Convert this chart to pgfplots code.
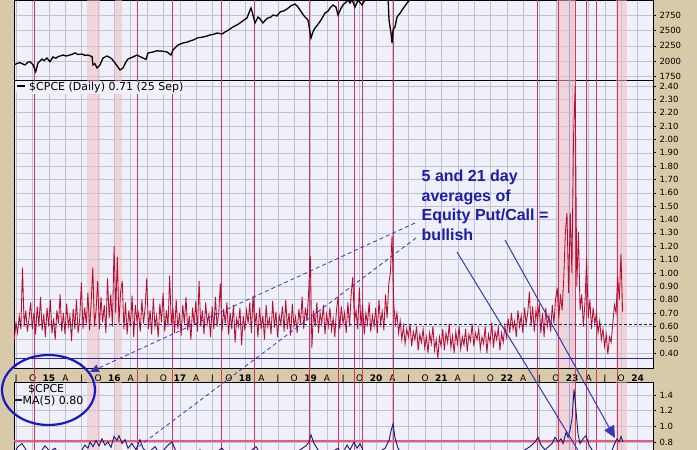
\documentclass[border=0pt]{standalone}
\usepackage{pgfplots}
\pgfplotsset{compat=1.18}
\usepackage{pgfplotstable}
\usepackage{fontspec}
\setmainfont{DejaVu Sans}
\newfontfamily\annfont{Liberation Sans}
\usetikzlibrary{arrows.meta}

\definecolor{tanbg}{RGB}{216,202,168}
\definecolor{panelbg}{RGB}{239,240,249}
\definecolor{gridc}{RGB}{192,194,208}
\definecolor{sigred}{RGB}{205,55,100}
\definecolor{bandpink}{RGB}{240,190,194}
\definecolor{cpcered}{RGB}{185,12,48}
\definecolor{navyline}{RGB}{25,25,110}
\definecolor{refblue}{RGB}{40,40,170}
\definecolor{annblue}{RGB}{28,28,170}
\definecolor{arrowblue}{RGB}{55,55,185}
\definecolor{ellblue}{RGB}{25,25,195}
\definecolor{refpink}{RGB}{232,90,125}

% signal dates (red lines) and shaded periods
\newcommand{\signals}{%
  \fill[bandpink, fill opacity=0.55] (axis cs:2015.581,\pgfkeysvalueof{/pgfplots/ymin}) rectangle (axis cs:2015.780,\pgfkeysvalueof{/pgfplots/ymax});
  \fill[bandpink, fill opacity=0.55] (axis cs:2016.009,\pgfkeysvalueof{/pgfplots/ymin}) rectangle (axis cs:2016.116,\pgfkeysvalueof{/pgfplots/ymax});
  \fill[bandpink, fill opacity=0.55] (axis cs:2022.767,\pgfkeysvalueof{/pgfplots/ymin}) rectangle (axis cs:2023.058,\pgfkeysvalueof{/pgfplots/ymax});
  \fill[bandpink, fill opacity=0.55] (axis cs:2023.670,\pgfkeysvalueof{/pgfplots/ymin}) rectangle (axis cs:2023.838,\pgfkeysvalueof{/pgfplots/ymax});
  \draw[refblue!45, line width=0.7pt] (axis cs:2022.951,\pgfkeysvalueof{/pgfplots/ymin}) -- (axis cs:2022.951,\pgfkeysvalueof{/pgfplots/ymax});
  \pgfplotsinvokeforeach{2014.771,2016.346,2016.881,2017.630,2018.135,2018.975,2019.419,2019.664,2019.786,2020.260,2022.462,2022.783,2023.043,2023.211,2023.364,2023.685}{%
    \draw[sigred, line width=0.7pt] (axis cs:##1,\pgfkeysvalueof{/pgfplots/ymin}) -- (axis cs:##1,\pgfkeysvalueof{/pgfplots/ymax});}%
}

\pgfplotsset{
  panel/.style={
    scale only axis, width=639pt,
    xmin=2014.465, xmax=2024.235,
    axis background/.style={fill=panelbg},
    xtick={2014.5,2014.75,2015,2015.25,2015.5,2015.75,2016,2016.25,2016.5,2016.75,2017,2017.25,2017.5,2017.75,2018,2018.25,2018.5,2018.75,2019,2019.25,2019.5,2019.75,2020,2020.25,2020.5,2020.75,2021,2021.25,2021.5,2021.75,2022,2022.25,2022.5,2022.75,2023,2023.25,2023.5,2023.75,2024},
    xmajorgrids, ymajorgrids,
    major grid style={gridc, line width=0.5pt},
    axis line style={black, line width=0.9pt},
    xtick style={draw=none},
    ytick pos=right, yticklabel pos=right,
    tick align=outside,
    ytick style={black, line width=0.6pt},
    major tick length=3pt,
    tick label style={font=\fontsize{8.5}{10}\selectfont, black},
    /pgf/number format/assume math mode=true,
  }
}

% $CPCE daily, one value every 0.025 year from 2014.47
\pgfplotstableread[row sep=\\]{
v\\
0.50\\ 0.62\\ 0.55\\ 0.68\\ 0.58\\ 1.04\\ 0.60\\ 0.72\\ 0.56\\ 0.66\\
0.78\\ 0.58\\ 0.70\\ 0.54\\ 0.75\\ 0.60\\ 0.82\\ 0.57\\ 0.69\\ 0.52\\
0.74\\ 0.60\\ 0.80\\ 0.55\\ 0.66\\ 0.50\\ 0.72\\ 0.62\\ 0.84\\ 0.56\\
0.70\\ 0.54\\ 0.77\\ 0.60\\ 0.68\\ 0.49\\ 0.73\\ 0.58\\ 0.80\\ 0.55\\
0.66\\ 0.93\\ 0.58\\ 0.74\\ 0.62\\ 0.85\\ 0.57\\ 0.78\\ 1.04\\ 0.60\\
0.72\\ 0.94\\ 0.58\\ 0.82\\ 0.63\\ 0.76\\ 0.55\\ 0.96\\ 0.66\\ 0.84\\
0.60\\ 1.20\\ 0.70\\ 1.12\\ 0.62\\ 0.86\\ 0.94\\ 0.58\\ 0.78\\ 0.54\\
0.72\\ 0.60\\ 0.83\\ 0.52\\ 0.76\\ 0.64\\ 0.70\\ 0.56\\ 0.80\\ 0.62\\
0.74\\ 0.96\\ 0.58\\ 0.72\\ 0.54\\ 0.81\\ 0.60\\ 0.68\\ 0.52\\ 0.77\\
0.63\\ 0.85\\ 0.56\\ 0.72\\ 0.60\\ 0.98\\ 0.62\\ 0.74\\ 0.55\\ 0.80\\
0.58\\ 0.70\\ 0.53\\ 0.76\\ 0.62\\ 0.82\\ 0.57\\ 0.68\\ 0.50\\ 0.74\\
0.61\\ 0.79\\ 0.56\\ 0.94\\ 0.60\\ 0.72\\ 0.54\\ 0.78\\ 0.62\\ 0.69\\
0.52\\ 0.75\\ 0.58\\ 0.82\\ 0.60\\ 0.70\\ 0.92\\ 0.56\\ 0.73\\ 0.62\\
0.78\\ 0.54\\ 0.70\\ 0.58\\ 0.76\\ 0.48\\ 0.66\\ 0.60\\ 0.74\\ 0.46\\
0.68\\ 0.57\\ 0.72\\ 0.62\\ 0.78\\ 0.55\\ 0.83\\ 0.60\\ 0.70\\ 0.52\\
0.74\\ 0.58\\ 0.68\\ 0.50\\ 0.76\\ 0.60\\ 0.66\\ 0.54\\ 0.79\\ 0.59\\
0.71\\ 0.52\\ 0.68\\ 0.62\\ 0.75\\ 0.56\\ 0.80\\ 0.58\\ 0.70\\ 0.53\\
0.77\\ 0.60\\ 0.67\\ 0.55\\ 0.73\\ 0.62\\ 0.82\\ 0.58\\ 0.74\\ 0.64\\
0.86\\ 1.13\\ 0.44\\ 0.72\\ 0.60\\ 0.78\\ 0.55\\ 0.70\\ 0.62\\ 0.76\\
0.54\\ 0.69\\ 0.60\\ 0.74\\ 0.57\\ 0.66\\ 0.52\\ 0.72\\ 0.82\\ 0.58\\
0.75\\ 0.62\\ 0.70\\ 0.55\\ 0.78\\ 0.60\\ 0.84\\ 0.97\\ 0.63\\ 0.72\\
0.58\\ 0.89\\ 0.60\\ 0.76\\ 0.54\\ 0.70\\ 0.62\\ 0.78\\ 0.56\\ 0.68\\
0.60\\ 0.74\\ 0.55\\ 0.80\\ 0.62\\ 0.71\\ 0.57\\ 0.84\\ 0.66\\ 0.92\\
1.00\\ 1.28\\ 0.78\\ 0.62\\ 0.70\\ 0.55\\ 0.64\\ 0.50\\ 0.60\\ 0.47\\
0.58\\ 0.52\\ 0.62\\ 0.45\\ 0.56\\ 0.50\\ 0.60\\ 0.42\\ 0.54\\ 0.48\\
0.58\\ 0.44\\ 0.52\\ 0.40\\ 0.55\\ 0.47\\ 0.60\\ 0.42\\ 0.50\\ 0.36\\
0.52\\ 0.45\\ 0.58\\ 0.42\\ 0.55\\ 0.48\\ 0.62\\ 0.44\\ 0.53\\ 0.40\\
0.56\\ 0.47\\ 0.60\\ 0.43\\ 0.52\\ 0.46\\ 0.58\\ 0.41\\ 0.54\\ 0.49\\
0.62\\ 0.45\\ 0.55\\ 0.50\\ 0.58\\ 0.43\\ 0.52\\ 0.47\\ 0.60\\ 0.40\\
0.54\\ 0.48\\ 0.63\\ 0.44\\ 0.56\\ 0.50\\ 0.59\\ 0.42\\ 0.55\\ 0.48\\
0.60\\ 0.52\\ 0.66\\ 0.55\\ 0.70\\ 0.58\\ 0.64\\ 0.52\\ 0.72\\ 0.60\\
0.68\\ 0.55\\ 0.74\\ 0.62\\ 0.70\\ 0.86\\ 0.60\\ 0.75\\ 0.56\\ 0.72\\
0.64\\ 0.77\\ 0.55\\ 0.70\\ 0.52\\ 0.74\\ 0.60\\ 0.68\\ 0.56\\ 0.76\\
0.62\\ 0.80\\ 0.89\\ 0.66\\ 0.84\\ 0.72\\ 0.95\\ 1.30\\ 1.45\\ 0.85\\
1.45\\ 1.00\\ 2.02\\ 2.40\\ 0.90\\ 1.31\\ 0.72\\ 0.84\\ 0.60\\ 0.78\\
1.11\\ 0.66\\ 0.80\\ 0.58\\ 0.74\\ 0.62\\ 0.70\\ 0.55\\ 0.64\\ 0.50\\
0.58\\ 0.45\\ 0.54\\ 0.39\\ 0.52\\ 0.48\\ 0.62\\ 0.76\\ 0.70\\ 0.97\\
0.80\\ 1.14\\ 0.71\\
}\cpce

% S&P 500 (top panel)
\pgfplotstableread[row sep=\\]{
t s\\
2014.465 1940\\ 2014.511 1965\\ 2014.557 1977\\ 2014.602 1955\\ 2014.633 1940\\ 2014.679 1985\\
2014.709 1993\\ 2014.755 1945\\ 2014.797 1831\\ 2014.832 1972\\ 2014.893 2037\\ 2014.924 2010\\
2014.969 2053\\ 2015.015 1993\\ 2015.061 2070\\ 2015.107 2050\\ 2015.138 2075\\ 2015.183 2090\\
2015.214 2102\\ 2015.260 2085\\ 2015.321 2102\\ 2015.367 2118\\ 2015.398 2135\\ 2015.443 2110\\
2015.505 2118\\ 2015.550 2095\\ 2015.596 2102\\ 2015.658 2075\\ 2015.673 1940\\ 2015.703 1960\\
2015.734 1891\\ 2015.780 1940\\ 2015.826 2053\\ 2015.887 2086\\ 2015.933 2060\\ 2015.963 2037\\
2016.009 1972\\ 2016.055 1905\\ 2016.086 1859\\ 2016.132 1891\\ 2016.177 1990\\ 2016.208 2037\\
2016.284 2070\\ 2016.346 2102\\ 2016.392 2075\\ 2016.437 2053\\ 2016.483 2030\\ 2016.514 2135\\
2016.590 2151\\ 2016.651 2170\\ 2016.697 2167\\ 2016.758 2160\\ 2016.804 2151\\ 2016.865 2102\\
2016.896 2183\\ 2016.972 2264\\ 2017.049 2297\\ 2017.110 2310\\ 2017.156 2329\\ 2017.217 2350\\
2017.263 2378\\ 2017.355 2394\\ 2017.416 2410\\ 2017.462 2427\\ 2017.523 2440\\ 2017.569 2459\\
2017.645 2443\\ 2017.691 2475\\ 2017.722 2492\\ 2017.813 2557\\ 2017.875 2590\\ 2017.921 2622\\
2017.982 2670\\ 2018.028 2703\\ 2018.058 2790\\ 2018.089 2865\\ 2018.119 2750\\ 2018.150 2622\\
2018.196 2719\\ 2018.226 2690\\ 2018.272 2622\\ 2018.318 2680\\ 2018.349 2703\\ 2018.395 2720\\
2018.425 2751\\ 2018.486 2735\\ 2018.532 2800\\ 2018.593 2820\\ 2018.639 2849\\ 2018.700 2900\\
2018.761 2930\\ 2018.807 2881\\ 2018.868 2784\\ 2018.914 2719\\ 2018.960 2670\\ 2019.006 2378\\
2019.037 2480\\ 2019.067 2540\\ 2019.113 2600\\ 2019.159 2670\\ 2019.220 2784\\ 2019.266 2815\\
2019.297 2865\\ 2019.342 2914\\ 2019.388 2880\\ 2019.419 2751\\ 2019.465 2860\\ 2019.495 2914\\
2019.541 2960\\ 2019.572 2995\\ 2019.602 2946\\ 2019.633 3000\\ 2019.679 2880\\ 2019.725 2990\\
2019.786 2914\\ 2019.832 3000\\ 2019.908 3100\\ 2020.061 3250\\ 2020.153 3300\\ 2020.184 3050\\
2020.199 2670\\ 2020.230 2450\\ 2020.245 2297\\ 2020.260 2508\\ 2020.291 2560\\ 2020.321 2719\\
2020.367 2780\\ 2020.398 2832\\ 2020.444 2900\\ 2020.474 2946\\ 2020.520 3000\\ 2020.600 3200\\
2020.829 3400\\ 2021.135 3800\\ 2021.594 4300\\ 2021.976 4700\\ 2022.511 3800\\ 2022.817 3600\\
2023.429 4100\\ 2023.735 4340\\
}\spx

% 5-day moving average of $CPCE (bottom panel)
\pgfplotstableread[row sep=\\]{
t m\\
2014.465 0.65\\ 2014.526 0.74\\ 2014.587 0.78\\ 2014.648 0.70\\ 2014.709 0.62\\ 2014.862 0.66\\
2014.939 0.75\\ 2015.015 0.68\\ 2015.092 0.72\\ 2015.168 0.62\\ 2015.321 0.60\\ 2015.474 0.66\\
2015.550 0.76\\ 2015.596 0.72\\ 2015.627 0.80\\ 2015.673 0.74\\ 2015.719 0.82\\ 2015.765 0.75\\
2015.810 0.84\\ 2015.856 0.76\\ 2015.902 0.80\\ 2015.948 0.73\\ 2015.994 0.87\\ 2016.040 0.82\\
2016.070 0.88\\ 2016.116 0.78\\ 2016.162 0.83\\ 2016.208 0.72\\ 2016.269 0.78\\ 2016.330 0.70\\
2016.391 0.83\\ 2016.437 0.72\\ 2016.514 0.66\\ 2016.621 0.74\\ 2016.697 0.64\\ 2016.820 0.76\\
2016.881 0.80\\ 2016.942 0.68\\ 2017.079 0.62\\ 2017.309 0.70\\ 2017.462 0.62\\ 2017.645 0.72\\
2017.768 0.60\\ 2018.073 0.68\\ 2018.165 0.74\\ 2018.257 0.62\\ 2018.685 0.64\\ 2018.838 0.70\\
2018.930 0.75\\ 2018.976 0.80\\ 2019.006 0.89\\ 2019.052 0.78\\ 2019.113 0.70\\ 2019.220 0.62\\
2019.419 0.72\\ 2019.480 0.64\\ 2019.557 0.76\\ 2019.602 0.70\\ 2019.664 0.80\\ 2019.709 0.72\\
2019.755 0.78\\ 2019.817 0.66\\ 2019.939 0.62\\ 2020.138 0.72\\ 2020.199 0.82\\ 2020.229 0.94\\
2020.260 1.03\\ 2020.291 0.85\\ 2020.336 0.72\\ 2020.428 0.60\\ 2021.131 0.55\\ 2021.896 0.58\\
2022.202 0.66\\ 2022.355 0.74\\ 2022.431 0.80\\ 2022.477 0.86\\ 2022.523 0.76\\ 2022.584 0.70\\
2022.691 0.78\\ 2022.737 0.86\\ 2022.783 0.80\\ 2022.829 0.84\\ 2022.859 0.78\\ 2022.905 0.92\\
2022.936 0.86\\ 2022.966 0.95\\ 2022.997 1.10\\ 2023.028 1.47\\ 2023.058 1.20\\ 2023.089 0.90\\
2023.119 0.78\\ 2023.165 0.84\\ 2023.211 0.88\\ 2023.257 0.76\\ 2023.303 0.70\\ 2023.394 0.64\\
2023.501 0.55\\ 2023.578 0.62\\ 2023.639 0.76\\ 2023.685 0.84\\ 2023.716 0.80\\ 2023.746 0.87\\
2023.777 0.80\\
}\cpcema

\begin{document}
\begin{tikzpicture}[x=1pt, y=1pt]
\fill[tanbg] (0,0) rectangle (697,450);

% top panel: S&P 500
\begin{axis}[panel, at={(14pt,370pt)}, anchor=south west, height=80pt,
  ymin=1696, ymax=2995,
  ytick={1750,2000,2250,2500,2750,3000},
  /pgf/number format/1000 sep={},
  xticklabels={}]
  \signals
  \addplot[black, line width=1.3pt] table[x=t, y=s] {\spx};
\end{axis}

% middle panel: $CPCE daily
\begin{axis}[panel, at={(14pt,82pt)}, anchor=south west, height=288pt,
  ymin=0.288, ymax=2.445,
  ytick={0.4,0.5,0.6,0.7,0.8,0.9,1.0,1.1,1.2,1.3,1.4,1.5,1.6,1.7,1.8,1.9,2.0,2.1,2.2,2.3,2.4},
  yticklabel style={/pgf/number format/.cd, fixed, fixed zerofill, precision=2},
  xticklabels={J,O,\textbf{15},A,J,O,\textbf{16},A,J,O,\textbf{17},A,J,O,\textbf{18},A,J,O,\textbf{19},A,J,O,\textbf{20},A,J,O,\textbf{21},A,J,O,\textbf{22},A,J,O,\textbf{23},A,J,O,\textbf{24}},
  xticklabel style={anchor=base, yshift=-10.5pt, font=\fontsize{9}{10}\selectfont}]
  \signals
  \addplot[cpcered, line width=0.85pt] table[x expr={2014.47+0.025*\coordindex}, y=v] {\cpce};
  \addplot[navyline, line width=0.8pt, dash pattern=on 3pt off 2pt] coordinates {(2014.465,0.617) (2024.235,0.617)};
  \addplot[refblue, line width=0.9pt] coordinates {(2014.465,0.36) (2024.235,0.36)};
\end{axis}

% bottom panel: MA(5)
\begin{axis}[panel, at={(14pt,-30pt)}, anchor=south west, height=98pt,
  ymin=0.314, ymax=1.566,
  ytick={0.8,1.0,1.2,1.4},
  yticklabel style={/pgf/number format/.cd, fixed, fixed zerofill, precision=1},
  xticklabels={}]
  \signals
  \addplot[refpink, line width=2pt] coordinates {(2014.465,0.81) (2024.235,0.81)};
  \addplot[navyline, line width=0.9pt] table[x=t, y=m] {\cpcema};
\end{axis}

% signal lines through the date strip
\foreach \p in {34,137,172,221,254,309,338,354,362,393,537,558,575,586,596,617}
  \draw[sigred, line width=0.7pt] (\p,68) -- (\p,82);

% legends
\node[anchor=base west, inner sep=1pt, fill=panelbg, font=\fontsize{11}{12}\selectfont] at (28,359) {\$CPCE (Daily) 0.71 (25 Sep)};
\fill[panelbg] (15,358) rectangle (28,369);
\draw[black, line width=2pt] (17,363.5) -- (25,363.5);
\node[anchor=base west, inner sep=0pt, font=\fontsize{11}{12}\selectfont] at (28,57) {\$CPCE};
\draw[navyline, line width=2pt] (15,50) -- (22,50);
\node[anchor=base west, inner sep=0pt, font=\fontsize{11}{12}\selectfont] at (22.5,45) {MA(5) 0.80};

% annotation
\begin{scope}[annblue, font=\annfont\bfseries\fontsize{16}{19}\selectfont]
  \node[anchor=base west, inner sep=0pt] at (421.5,268) {5 and 21 day};
  \node[anchor=base west, inner sep=0pt] at (421.5,248.5) {averages of};
  \node[anchor=base west, inner sep=0pt] at (421.5,229) {Equity Put/Call =};
  \node[anchor=base west, inner sep=0pt] at (421.5,209.5) {bullish};
\end{scope}
\draw[arrowblue, line width=0.8pt, dash pattern=on 4pt off 3pt, -{Triangle[length=9pt,width=8pt]}] (415,227) -- (90,78);
\draw[arrowblue, line width=0.8pt, dash pattern=on 4pt off 3pt] (416,212) -- (138,3);
\draw[arrowblue, line width=1pt] (457,198) -- (590,-20);
\draw[arrowblue, line width=1pt, -{Triangle[length=12pt,width=11pt]}] (505,210) -- (615,12);
\draw[ellblue, line width=2.2pt] (48.5,60) ellipse [x radius=46.5pt, y radius=35pt];

\pgfresetboundingbox
\path[use as bounding box] (0,0) rectangle (697,450);
\end{tikzpicture}
\end{document}
